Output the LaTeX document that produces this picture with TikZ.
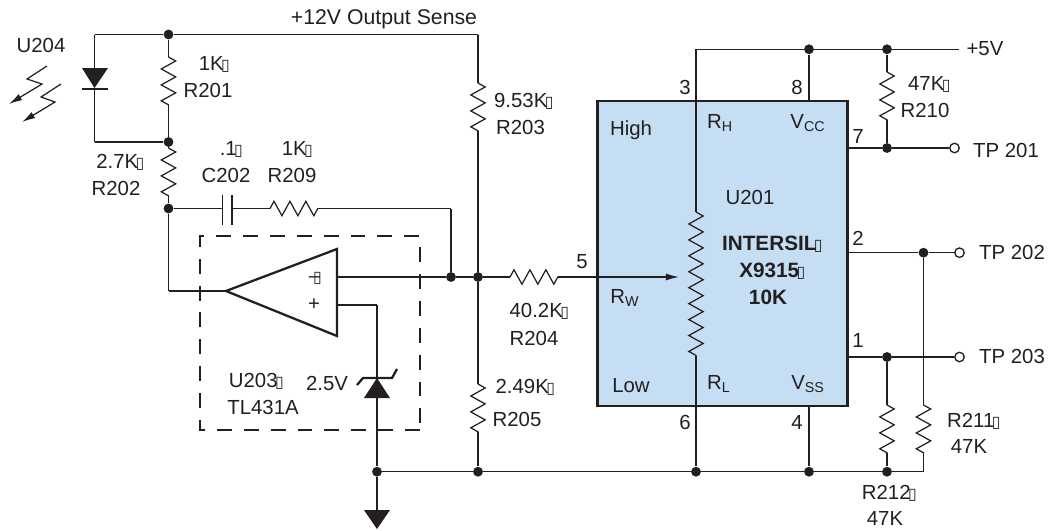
\documentclass[tikz,border=0pt]{standalone}
\usepackage{fontspec}
\setmainfont{Liberation Sans}
\newfontfamily\dejavu{DejaVu Sans}
\usetikzlibrary{arrows,arrows.meta,positioning,decorations.pathmorphing}
\definecolor{inkgrey}{RGB}{35,31,32}
\definecolor{chipblue}{RGB}{198,222,243}
\newcommand{\nogl}{{\dejavu\fontsize{9}{9}\selectfont\kern-1.5pt ▯\kern-1.5pt}}
\tikzstyle{CIRCUIT_style}=[
	x=0.02cm,y=-0.02cm,node distance=0.54cm,
	dot/.style={circle,fill=inkgrey,draw=none,inner sep=0pt,minimum size=5.6pt},
	tp/.style={circle,fill=white,draw=inkgrey,line width=0.75pt,inner sep=0pt,minimum size=5.4pt},
	lab/.style={rectangle,draw=none,inner sep=0pt,text=inkgrey,text height=8.4pt,text depth=0pt,font=\fontsize{11.6}{13}\selectfont},
	boldlab/.style={lab,font=\fontsize{11.8}{13}\selectfont\bfseries},
	chip/.style={rectangle,fill=chipblue,draw=inkgrey,line width=1.5pt,inner sep=0pt,minimum width=5cm,minimum height=6.1cm},
	wire/.style={draw=inkgrey,line width=0.7pt},
	res/.style={wire,decorate,decoration={zigzag,segment length=9.07pt,amplitude=4.1pt}},
	ray/.style={wire,-{Latex[length=7.5pt,width=4pt]}},
	thick_wire/.style={draw=inkgrey,line width=1.3pt,line join=miter},
	dash_box/.style={draw=inkgrey,line width=0.7pt,dash pattern=on 8.5pt off 6.8pt}
]
\begin{document}
\begin{tikzpicture}[CIRCUIT_style]
	\useasboundingbox (0,0) rectangle (1049,531);
	
	\node[chip] (u201) at (722.7,253.5) {};
	
	% junctions
	\node[dot] (j1) at (168.5,34.5) {};
	\node[dot] (j2) at (168.5,142) {};
	\node[dot] (j3) at (168.5,208.5) {};
	\node[dot] (j4) at (451,277) {};
	\node[dot] (j5) at (478,277) {};
	\node[dot] (j6) at (377,471.7) {};
	\node[dot] (j7) at (478,471.7) {};
	\node[dot] (j8) at (696,471.7) {};
	\node[dot] (j9) at (809,471.7) {};
	\node[dot] (j10) at (887,471.7) {};
	\node[dot] (j11) at (809,49.3) {};
	\node[dot] (j12) at (887,49.3) {};
	\node[dot] (j13) at (887,148) {};
	\node[dot] (j14) at (923.5,252.7) {};
	\node[dot] (j15) at (887,357) {};
	
	% test points
	\node[tp] (tp1) at (954.5,148) {};
	\node[tp] (tp2) at (959.5,252.7) {};
	\node[tp] (tp3) at (959.5,357) {};
	
	% corners and free ends
	\coordinate (tl) at (94.5,34.5);
	\coordinate (tr) at (478,34.5);
	\coordinate (dtop) at (94.5,68);
	\coordinate (dbot) at (94.5,89);
	\coordinate (dl) at (94.5,142);
	\coordinate (r201a) at (168.5,57);
	\coordinate (r201b) at (168.5,105);
	\coordinate (r202a) at (168.5,148);
	\coordinate (r202b) at (168.5,196);
	\coordinate (c1) at (222.7,208.5);
	\coordinate (c2) at (232,208.5);
	\coordinate (c1a) at (222.7,195);
	\coordinate (c1b) at (222.7,225);
	\coordinate (c2a) at (232,195);
	\coordinate (c2b) at (232,225);
	\coordinate (r209a) at (270,208.5);
	\coordinate (r209b) at (318,208.5);
	\coordinate (fb) at (451,208.5);
	\coordinate (oin) at (168.5,291);
	\coordinate (oa) at (226,291);
	\coordinate (ob) at (337,249);
	\coordinate (oc) at (337,336);
	\coordinate (oout) at (337,277);
	\coordinate (oplus) at (337,305);
	\coordinate (zt) at (377,305);
	\coordinate (zk) at (377,378);
	\coordinate (za) at (377,398);
	\coordinate (gnd) at (377,510);
	\coordinate (r203a) at (478,83);
	\coordinate (r203b) at (478,131);
	\coordinate (r205a) at (478,384);
	\coordinate (r205b) at (478,432);
	\coordinate (r204a) at (510,277);
	\coordinate (r204b) at (558,277);
	\coordinate (rwtip) at (679,277);
	\coordinate (vt) at (696,49.3);
	\coordinate (rwa) at (696,212);
	\coordinate (rwb) at (696,356);
	\coordinate (v5) at (959,49.3);
	\coordinate (vcc) at (809,101);
	\coordinate (vss) at (809,406);
	\coordinate (r210a) at (887,72);
	\coordinate (r210b) at (887,120);
	\coordinate (p7) at (847.7,148);
	\coordinate (p2) at (847.7,252.7);
	\coordinate (p1) at (847.7,357);
	\coordinate (r212a) at (887,405);
	\coordinate (r212b) at (887,453);
	\coordinate (r211a) at (923.5,405);
	\coordinate (r211b) at (923.5,453);
	\coordinate (br) at (923.5,471.7);
	
	\path (tl) edge [wire] (j1)
	(j1) edge [wire] (tr)
	(tr) edge [wire] (r203a)
	(tl) edge [wire] (dtop)
	(dbot) edge [wire] (dl)
	(dl) edge [wire] (j2)
	(j1) edge [wire] (r201a)
	(r201a) edge [res] (r201b)
	(r201b) edge [wire] (j2)
	(j2) edge [wire] (r202a)
	(r202a) edge [res] (r202b)
	(r202b) edge [wire] (j3)
	(j3) edge [wire] (c1)
	(c1a) edge [wire] (c1b)
	(c2a) edge [wire] (c2b)
	(c2) edge [wire] (r209a)
	(r209a) edge [res] (r209b)
	(r209b) edge [wire] (fb)
	(fb) edge [wire] (j4)
	(j3) edge [wire] (oin)
	(oin) edge [wire] (oa)
	(oout) edge [wire] (j4)
	(j4) edge [wire] (j5)
	(j5) edge [wire] (r204a)
	(r204a) edge [res] (r204b)
	(oplus) edge [wire] (zt)
	(zt) edge [wire] (zk)
	(za) edge [wire] (j6)
	(j6) edge [wire] (gnd)
	(j6) edge [wire] (j7)
	(r203a) edge [res] (r203b)
	(r203b) edge [wire] (j5)
	(j5) edge [wire] (r205a)
	(r205a) edge [res] (r205b)
	(r205b) edge [wire] (j7)
	(j7) edge [wire] (j8)
	(j8) edge [wire] (j9)
	(j9) edge [wire] (j10)
	(j10) edge [wire] (br);
	
	\path (vt) edge [wire] (j11)
	(j11) edge [wire] (j12)
	(j12) edge [wire] (v5)
	(vt) edge [wire] (rwa)
	(rwa) edge [res] (rwb)
	(rwb) edge [wire] (j8)
	(j11) edge [wire] (vcc)
	(vss) edge [wire] (j9)
	(j12) edge [wire] (r210a)
	(r210a) edge [res] (r210b)
	(r210b) edge [wire] (j13)
	(p7) edge [wire] (j13)
	(j13) edge [wire] (tp1)
	(p2) edge [wire] (j14)
	(j14) edge [wire] (tp2)
	(p1) edge [wire] (j15)
	(j15) edge [wire] (tp3)
	(j15) edge [wire] (r212a)
	(r212a) edge [res] (r212b)
	(r212b) edge [wire] (j10)
	(j14) edge [wire] (r211a)
	(r211a) edge [res] (r211b)
	(r211b) edge [wire] (br);
	
	\path (r204b) edge [ray] (rwtip);
	
	% op amp, dashed box
	\draw[thick_wire] (oa) -- (ob) -- (oc) -- cycle;
	\draw[dash_box] (420,430) -- (200,430) -- (200,236) -- (420,236) -- (420,430);
	
	% diodes and ground
	\fill[inkgrey] (82,68) -- (108,68) -- (94.5,88) -- cycle;
	\draw[thick_wire] (81.5,89) -- (108,89);
	\fill[inkgrey] (zk) -- (390,398) -- (364,398) -- cycle;
	\draw[thick_wire] (357,385) -- (363,378) -- (392,378) -- (397,369);
	\fill[inkgrey] (364,510) -- (390,510) -- (377,529) -- cycle;
	
	% light
	\draw[ray] (47,66) -- (27,79) -- (42,84) -- (9,104);
	\draw[ray] (61,84) -- (41,97) -- (55,102) -- (22,122);
	
	\node[lab,font=\fontsize{12.1}{13}\selectfont] (topl) at (384,17) {+12V Output Sense};
	\node[lab] (u204) at (41,45) {U204};
	\node[lab] (r201v) at (213,63) {1K\nogl};
	\node[lab] (r201n)[below of=r201v,xshift=-0.1cm] {R201};
	\node[lab] (r202v) at (119,161) {2.7K\nogl};
	\node[lab] (r202n)[below of=r202v,xshift=-0.06cm] {R202};
	\node[lab] (c202v) at (230,148) {.1\nogl};
	\node[lab] (c202n)[below of=c202v,xshift=-0.08cm] {C202};
	\node[lab] (r209v) at (296,148) {1K\nogl};
	\node[lab] (r209n)[below of=r209v,xshift=-0.08cm] {R209};
	\node[lab] (r203v) at (522.5,100) {9.53K\nogl};
	\node[lab] (r203n)[below of=r203v,xshift=-0.04cm] {R203};
	\node[lab] (pin5) at (582,261) {5};
	\node[lab] (r204v) at (538,310) {40.2K\nogl};
	\node[lab] (r204n) at (534,338) {R204};
	\node[lab] (r205v) at (524,386) {2.49K\nogl};
	\node[lab] (r205n) at (517,419) {R205};
	\node[lab] (u203) at (255,380) {U203\nogl};
	\node[lab] (tl431) at (263,407) {TL431A};
	\node[lab] (zv) at (327,383) {2.5V};
	\node[lab] (minus) at (314,275) {--\kern-2.5pt\nogl};
	\node[lab] (plus) at (314,303) {+};
	
	\node[lab] (pin3) at (685,87) {3};
	\node[lab] (pin8) at (797,87) {8};
	\node[lab] (high) at (631,128) {High};
	\node[lab] (rh) at (720,121) {R\textsubscript{H}};
	\node[lab] (vccl) at (808,121) {V\textsubscript{CC}};
	\node[lab] (u201l) at (750,197) {U201};
	\node[boldlab] (inters) at (771,243) {INTERSIL\nogl};
	\node[boldlab] (x9315) at (771,270) {X9315\nogl};
	\node[boldlab] (tenk) at (768,297) {10K};
	\node[lab] (rwl) at (625,296) {R\textsubscript{W}};
	\node[lab] (low) at (631,385) {Low};
	\node[lab] (rll) at (719,382) {R\textsubscript{L}};
	\node[lab] (vssl) at (808,382) {V\textsubscript{SS}};
	\node[lab] (pin6) at (685,422) {6};
	\node[lab] (pin4) at (797,422) {4};
	\node[lab] (pin7) at (858,136) {7};
	\node[lab] (pin2) at (858,238) {2};
	\node[lab] (pin1) at (858,340) {1};
	\node[lab] (r210v) at (928,83) {47K\nogl};
	\node[lab] (r210n) at (925,110) {R210};
	\node[lab] (v5l) at (985,48) {+5V};
	\node[lab] (tp1l) at (1006,150) {TP 201};
	\node[lab] (tp2l) at (1012,252) {TP 202};
	\node[lab] (tp3l) at (1012,356) {TP 203};
	\node[lab] (r211n) at (972.5,420) {R211\nogl};
	\node[lab] (r211v) at (969,446) {47K};
	\node[lab] (r212n) at (888,492) {R212\nogl};
	\node[lab] (r212v) at (885,518) {47K};
\end{tikzpicture}
\end{document}
